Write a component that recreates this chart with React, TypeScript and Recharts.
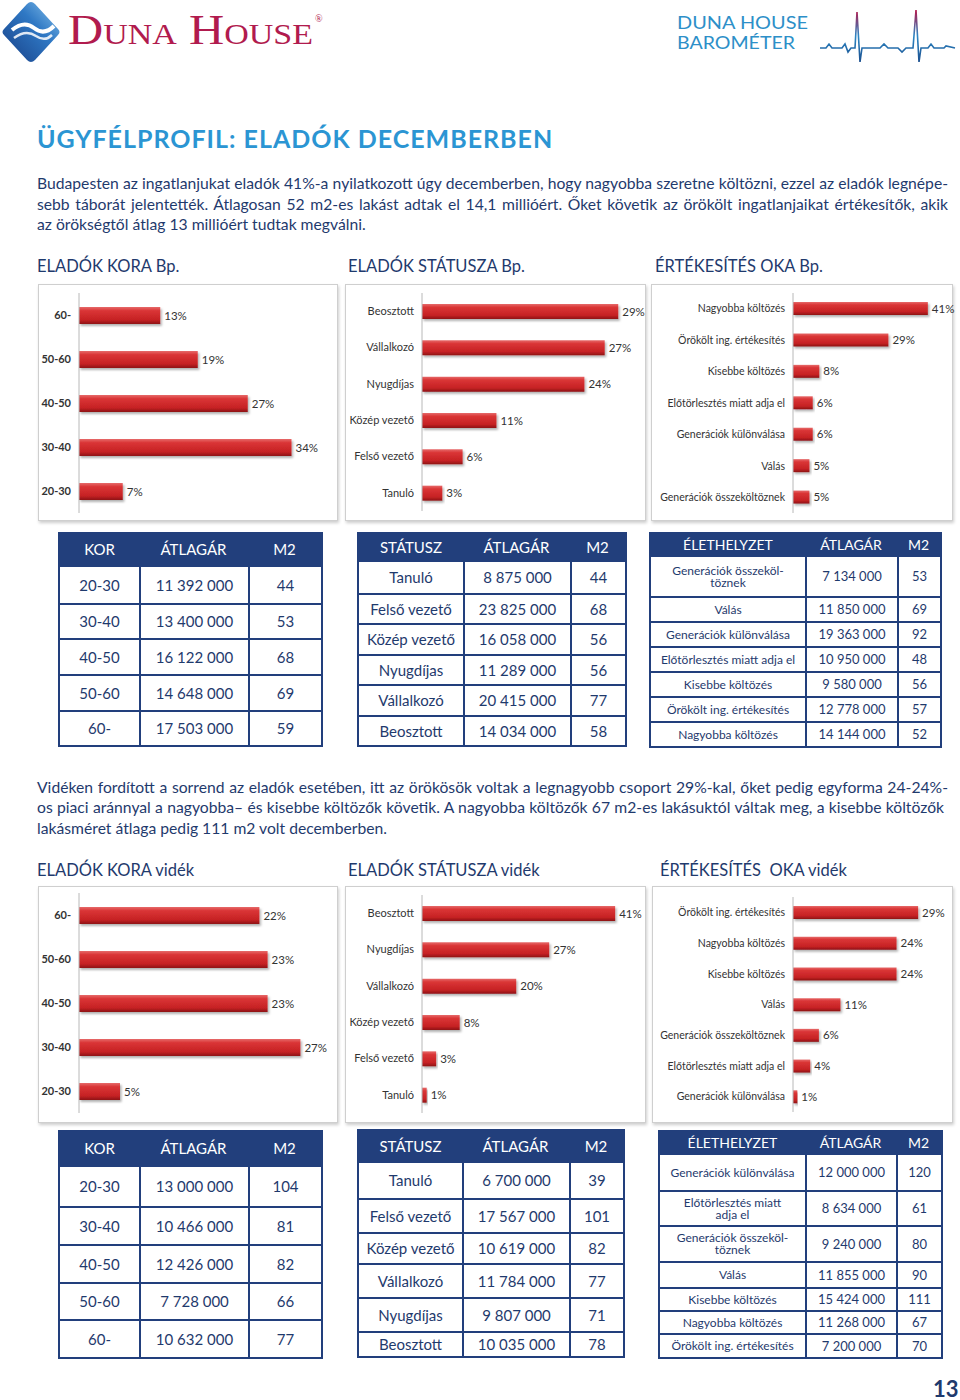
import React from "react";
import { Bar, BarChart, LabelList, XAxis, YAxis } from "recharts";

const FONT = "Lato, 'Open Sans', sans-serif";
const NAVY = "#1f3a6d";
const HEAD = "#223f7c";

// --- bar charts: Budapest ---
const ageLabels = ["60-", "50-60", "40-50", "30-40", "20-30"];
const ageBp = [13, 19, 27, 34, 7];
const statusBpLabels = ["Beosztott", "Vállalkozó", "Nyugdíjas", "Közép vezető", "Felső vezető", "Tanuló"];
const statusBp = [29, 27, 24, 11, 6, 3];
const reasonBpLabels = [
  "Nagyobba költözés",
  "Örökölt ing. értékesítés",
  "Kisebbe költözés",
  "Előtörlesztés miatt adja el",
  "Generációk különválása",
  "Válás",
  "Generációk összeköltöznek"
];
const reasonBp = [41, 29, 8, 6, 6, 5, 5];

// --- bar charts: vidék ---
const ageVidek = [22, 23, 23, 27, 5];
const statusVidekLabels = ["Beosztott", "Nyugdíjas", "Vállalkozó", "Közép vezető", "Felső vezető", "Tanuló"];
const statusVidek = [41, 27, 20, 8, 3, 1];
const reasonVidekLabels = [
  "Örökölt ing. értékesítés",
  "Nagyobba költözés",
  "Kisebbe költözés",
  "Válás",
  "Generációk összeköltöznek",
  "Előtörlesztés miatt adja el",
  "Generációk különválása"
];
const reasonVidek = [29, 24, 24, 11, 6, 4, 1];

// --- tables ---
const ageHead = ["KOR", "ÁTLAGÁR", "M2"];
const ageRows = ["20-30", "30-40", "40-50", "50-60", "60-"];
const agePriceBp = ["11 392 000", "13 400 000", "16 122 000", "14 648 000", "17 503 000"];
const ageM2Bp = [44, 53, 68, 69, 59];
const agePriceVidek = ["13 000 000", "10 466 000", "12 426 000", "7 728 000", "10 632 000"];
const ageM2Videk = [104, 81, 82, 66, 77];

const statusHead = ["STÁTUSZ", "ÁTLAGÁR", "M2"];
const statusRowsBp = ["Tanuló", "Felső vezető", "Közép vezető", "Nyugdíjas", "Vállalkozó", "Beosztott"];
const statusPriceBp = ["8 875 000", "23 825 000", "16 058 000", "11 289 000", "20 415 000", "14 034 000"];
const statusM2Bp = [44, 68, 56, 56, 77, 58];
const statusRowsVidek = ["Tanuló", "Felső vezető", "Közép vezető", "Vállalkozó", "Nyugdíjas", "Beosztott"];
const statusPriceVidek = ["6 700 000", "17 567 000", "10 619 000", "11 784 000", "9 807 000", "10 035 000"];
const statusM2Videk = [39, 101, 82, 77, 71, 78];

const lifeHead = ["ÉLETHELYZET", "ÁTLAGÁR", "M2"];
const lifeRowsBp = [
  "Generációk összeköl-\ntöznek",
  "Válás",
  "Generációk különválása",
  "Előtörlesztés miatt adja el",
  "Kisebbe költözés",
  "Örökölt ing. értékesítés",
  "Nagyobba költözés"
];
const lifePriceBp = ["7 134 000", "11 850 000", "19 363 000", "10 950 000", "9 580 000", "12 778 000", "14 144 000"];
const lifeM2Bp = [53, 69, 92, 48, 56, 57, 52];
const lifeRowsVidek = [
  "Generációk különválása",
  "Előtörlesztés miatt\nadja el",
  "Generációk összeköl-\ntöznek",
  "Válás",
  "Kisebbe költözés",
  "Nagyobba költözés",
  "Örökölt ing. értékesítés"
];
const lifePriceVidek = ["12 000 000", "8 634 000", "9 240 000", "11 855 000", "15 424 000", "11 268 000", "7 200 000"];
const lifeM2Videk = [120, 61, 80, 90, 111, 67, 70];

const para1 = [
  "Budapesten az ingatlanjukat eladók 41%-a nyilatkozott úgy decemberben, hogy nagyobba szeretne költözni, ezzel az eladók legnépe-",
  "sebb táborát jelentették. Átlagosan 52 m2-es lakást adtak el 14,1 millióért. Őket követik az örökölt ingatlanjaikat értékesítők, akik",
  "az örökségtől átlag 13 millióért tudtak megválni."
];
const para2 = [
  "Vidéken fordított a sorrend az eladók esetében, itt az örökösök voltak a legnagyobb csoport 29%-kal, őket pedig egyforma 24-24%-",
  "os piaci aránnyal a nagyobba– és kisebbe költözők követik. A nagyobba költözők 67 m2-es lakásuktól váltak meg, a kisebbe költözők",
  "lakásméret átlaga pedig 111 m2 volt decemberben."
];

const makeTick = (size: number, bold?: boolean) => (props: any) => {
  const { x, y, payload } = props;
  return (
    <text x={x} y={y} dy={size * 0.36} textAnchor="end" fill="#333" fontSize={size}
      fontFamily={FONT} fontWeight={bold ? 700 : 400}>{payload.value}</text>
  );
};

function HBar(p: {
  id: string; labels: string[]; values: number[]; max: number;
  x: number; y: number; w: number; h: number; axisW: number;
  top: number; bottom: number; right: number; barSize: number; tick: number; bold?: boolean;
}) {
  const data = p.labels.map((name, i) => ({ name, value: p.values[i] }));
  return (
    <div style={{
      position: "absolute", left: p.x, top: p.y, width: p.w, height: p.h,
      border: "1px solid #cfcfcf", boxShadow: "1px 2px 3px rgba(0,0,0,0.2)",
      background: "#fff", boxSizing: "border-box"
    }}>
      <BarChart layout="vertical" width={p.w - 2} height={p.h - 2} data={data}
        margin={{ top: p.top, bottom: p.bottom, left: 0, right: p.right }}>
        <defs>
          <linearGradient id={`g-${p.id}`} x1="0" y1="0" x2="0" y2="1">
            <stop offset="0%" stopColor="#e66a6a" />
            <stop offset="22%" stopColor="#da3536" />
            <stop offset="75%" stopColor="#c62224" />
            <stop offset="100%" stopColor="#8e1315" />
          </linearGradient>
          <filter id={`sh-${p.id}`} x="-5%" y="-20%" width="115%" height="160%">
            <feDropShadow dx="1.5" dy="2" stdDeviation="1.2" floodColor="#000" floodOpacity="0.3" />
          </filter>
        </defs>
        <XAxis type="number" domain={[0, p.max]} hide />
        <YAxis type="category" dataKey="name" width={p.axisW} interval={0}
          axisLine={{ stroke: "#b8b8b8" }} tickLine={false} tickSize={0} tickMargin={8}
          tick={makeTick(p.tick, p.bold)} />
        <Bar dataKey="value" fill={`url(#g-${p.id})`} barSize={p.barSize} isAnimationActive={false}
          style={{ filter: `url(#sh-${p.id})` }}>
          <LabelList dataKey="value" position="right" offset={4}
            formatter={(v: any) => `${v}%`} fill="#333" fontSize={11.5} fontFamily={FONT} />
        </Bar>
      </BarChart>
    </div>
  );
}

function DataTable(p: {
  x: number; y: number; cols: number[]; headH: number; rowH: number[];
  head: string[]; c1: string[]; c2: string[]; c3: number[];
  headSize: number; cellSize: number; firstSize?: number;
}) {
  const total = p.cols.reduce((a, b) => a + b, 0);
  const widths = [p.cols[0] - 2, p.cols[1], p.cols[2] - 2];
  const cell = (i: number, extra: React.CSSProperties = {}): React.CSSProperties => ({
    width: widths[i], flex: "none", display: "flex", alignItems: "center", justifyContent: "center",
    textAlign: "center", boxSizing: "border-box", whiteSpace: "pre", lineHeight: 1,
    borderLeft: i > 0 ? `2px solid ${HEAD}` : "none", ...extra
  });
  return (
    <div style={{
      position: "absolute", left: p.x, top: p.y, width: total, boxSizing: "border-box",
      border: `2px solid ${HEAD}`, borderTop: "none", background: "#fff", fontFamily: FONT, color: NAVY
    }}>
      <div style={{ display: "flex", height: p.headH, background: HEAD, color: "#fff", fontSize: p.headSize }}>
        {p.head.map((h, i) => (
          <div key={h} style={cell(i, { borderLeft: "none" })}>{h}</div>
        ))}
      </div>
      {p.c1.map((r, k) => (
        <div key={r} style={{
          display: "flex", height: p.rowH[k], boxSizing: "border-box",
          borderTop: k > 0 ? `2px solid ${HEAD}` : "none", fontSize: p.cellSize
        }}>
          <div style={cell(0, { fontSize: p.firstSize ?? p.cellSize })}>{r}</div>
          <div style={cell(1)}>{p.c2[k]}</div>
          <div style={cell(2)}>{p.c3[k]}</div>
        </div>
      ))}
    </div>
  );
}

function Line({ top, text, left = 37, width = 911, justify = true }: { top: number; text: string; left?: number; width?: number; justify?: boolean }) {
  return (
    <div style={{
      position: "absolute", left, top, width, height: 20, lineHeight: "20px", fontSize: 15.7,
      fontFamily: FONT, color: NAVY, whiteSpace: "nowrap",
      textAlign: justify ? "justify" : "left", textAlignLast: justify ? "justify" : "left"
    }}>{text}</div>
  );
}

function Heading({ left, top, text }: { left: number; top: number; text: string }) {
  return (
    <div style={{
      position: "absolute", left, top, fontSize: 16.5, lineHeight: "20px", fontFamily: FONT,
      color: NAVY, whiteSpace: "pre"
    }}>{text}</div>
  );
}

function Logos() {
  return (
    <svg width={960} height={70} style={{ position: "absolute", left: 0, top: 0 }}>
      <defs>
        <linearGradient id="dia" x1="0" y1="1" x2="1" y2="0">
          <stop offset="0%" stopColor="#173f86" />
          <stop offset="60%" stopColor="#2f78c4" />
          <stop offset="100%" stopColor="#8cc6ee" />
        </linearGradient>
        <linearGradient id="pulse" x1="0" y1="10" x2="0" y2="62" gradientUnits="userSpaceOnUse">
          <stop offset="0%" stopColor="#b5184b" />
          <stop offset="50%" stopColor="#2c86c4" />
          <stop offset="100%" stopColor="#1b4f8e" />
        </linearGradient>
      </defs>
      <path d="M31 2 Q33 2 35 4 L58 29 Q61 32 58 35 L35 60 Q31 64 27 60 L4 35 Q1 32 4 29 L27 4 Q29 2 31 2 Z" fill="url(#dia)" />
      <path d="M12 30 Q24 20 34 28 Q44 36 54 26" stroke="#fff" strokeWidth={4} fill="none" />
      <path d="M14 38 Q26 29 36 36 Q45 42 52 35" stroke="#fff" strokeWidth={2.5} fill="none" opacity={0.85} />
      <text x={68} y={44} fontSize={43} fontFamily="'Liberation Serif', serif" fill="#b11b4e"
        style={{ fontVariant: "small-caps" }} textLength={245} lengthAdjust="spacingAndGlyphs">Duna House</text>
      <text x={315} y={22} fontSize={10} fontFamily="'Liberation Serif', serif" fill="#b11b4e">®</text>
      <text x={677} y={29} fontSize={17} fontFamily={FONT} fill="#2d8fc8" textLength={131} lengthAdjust="spacingAndGlyphs">DUNA HOUSE</text>
      <text x={677} y={49} fontSize={17} fontFamily={FONT} fill="#2d8fc8" textLength={118} lengthAdjust="spacingAndGlyphs">BAROMÉTER</text>
      <polyline fill="none" stroke="url(#pulse)" strokeWidth={1.6}
        points="820,48 826,48 829,44 832,48 842,48 845,44 848,52 851,48 855,48 857,12 860,62 862,48 880,48 884,44 888,48 898,48 902,52 906,48 913,48 916,10 919,62 921,48 928,48 931,44 934,48 944,48 946,46 955,48" />
    </svg>
  );
}

export default function App() {
  return (
    <div style={{ position: "absolute", left: 0, top: 0, width: 960, height: 1400, background: "#fff", fontFamily: FONT }}>
      <style>{".recharts-surface{overflow:visible}"}</style>
      <Logos />
      <div style={{
        position: "absolute", left: 37, top: 123, fontSize: 25, lineHeight: "30px", fontWeight: 700,
        letterSpacing: 1, color: "#2b95d3", fontFamily: FONT, whiteSpace: "nowrap"
      }}>ÜGYFÉLPROFIL: ELADÓK DECEMBERBEN</div>

      <Line top={173} text={para1[0]} />
      <Line top={194} text={para1[1]} />
      <Line top={214} text={para1[2]} justify={false} />

      <Heading left={37} top={256} text="ELADÓK KORA Bp." />
      <Heading left={348} top={256} text="ELADÓK STÁTUSZA Bp." />
      <Heading left={655} top={256} text="ÉRTÉKESÍTÉS OKA Bp." />

      <HBar id="a1" labels={ageLabels} values={ageBp} max={40} x={38} y={284} w={300} h={237}
        axisW={40} top={8} bottom={7} right={8} barSize={17} tick={11} bold />
      <HBar id="s1" labels={statusBpLabels} values={statusBp} max={30} x={345} y={284} w={301} h={237}
        axisW={76} top={8} bottom={9} right={20} barSize={15} tick={11} />
      <HBar id="r1" labels={reasonBpLabels} values={reasonBp} max={45} x={651} y={284} w={302} h={237}
        axisW={141} top={8} bottom={7} right={11} barSize={13} tick={10.5} />

      <DataTable x={58} y={532} cols={[81, 109, 75]} headH={35} rowH={[36, 35, 36, 36, 35]}
        head={ageHead} c1={ageRows} c2={agePriceBp} c3={ageM2Bp} headSize={15} cellSize={15} />
      <DataTable x={357} y={532} cols={[106, 107, 57]} headH={30} rowH={[31, 30, 31, 30, 31, 30]}
        head={statusHead} c1={statusRowsBp} c2={statusPriceBp} c3={statusM2Bp} headSize={15} cellSize={15} />
      <DataTable x={649} y={532} cols={[156, 92, 45]} headH={25} rowH={[39, 25, 25, 25, 25, 25, 25]}
        head={lifeHead} c1={lifeRowsBp} c2={lifePriceBp} c3={lifeM2Bp} headSize={14} cellSize={13} firstSize={12} />

      <Line top={777} text={para2[0]} />
      <Line top={797} text={para2[1]} width={907} />
      <Line top={818} text={para2[2]} justify={false} />

      <Heading left={37} top={860} text="ELADÓK KORA vidék" />
      <Heading left={348} top={860} text="ELADÓK STÁTUSZA vidék" />
      <Heading left={660} top={860} text="ÉRTÉKESÍTÉS  OKA vidék" />

      <HBar id="a2" labels={ageLabels} values={ageVidek} max={30} x={38} y={886} w={300} h={237}
        axisW={40} top={6} bottom={9} right={12} barSize={17} tick={11} bold />
      <HBar id="s2" labels={statusVidekLabels} values={statusVidek} max={45} x={345} y={886} w={301} h={237}
        axisW={76} top={8} bottom={9} right={11} barSize={15} tick={11} />
      <HBar id="r2" labels={reasonVidekLabels} values={reasonVidek} max={35} x={652} y={886} w={301} h={237}
        axisW={140} top={10} bottom={10} right={8} barSize={13} tick={10.5} />

      <DataTable x={58} y={1130} cols={[81, 109, 75]} headH={37} rowH={[39, 38, 38, 37, 38]}
        head={ageHead} c1={ageRows} c2={agePriceVidek} c3={ageM2Videk} headSize={15} cellSize={15} />
      <DataTable x={357} y={1129} cols={[105, 107, 56]} headH={34} rowH={[35, 34, 31, 34, 34, 25]}
        head={statusHead} c1={statusRowsVidek} c2={statusPriceVidek} c3={statusM2Videk} headSize={15} cellSize={15} />
      <DataTable x={658} y={1130} cols={[147, 91, 47]} headH={25} rowH={[35, 35, 36, 26, 23, 23, 24]}
        head={lifeHead} c1={lifeRowsVidek} c2={lifePriceVidek} c3={lifeM2Videk} headSize={14} cellSize={13} firstSize={12} />

      <div style={{
        position: "absolute", left: 933, top: 1377, fontSize: 22, lineHeight: "24px", fontWeight: 700,
        color: NAVY, fontFamily: FONT
      }}>13</div>
    </div>
  );
}
